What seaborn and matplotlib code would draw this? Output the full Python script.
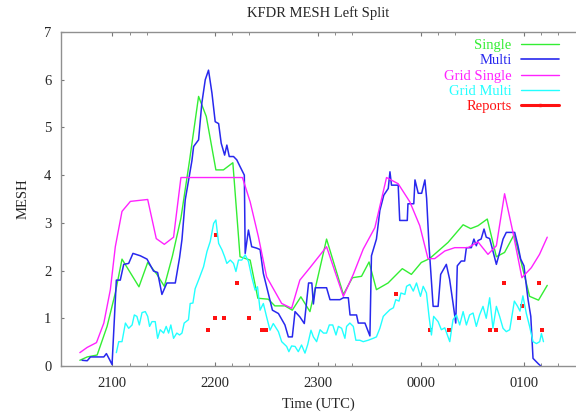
import numpy as np
import matplotlib
matplotlib.use("Agg")
import matplotlib.pyplot as plt
from matplotlib.lines import Line2D
from matplotlib.ticker import FixedLocator
import seaborn as sns

# time in minutes after 2100 UTC
single_t = [-19, -14.7, -8.9, -3.1, 1.7, 5.6, 15.5, 20.6, 26.0, 30.3, 35.0, 40.0, 45.0, 50.3, 54.8,
            60.4, 64.8, 70.3, 74.5, 80.4, 84.9, 91.0, 94.8, 100.7, 105.0, 110.0, 115.3, 125.0, 134.8,
            140.1, 145.4, 149.8, 154.1, 160.9, 169.2, 174.5, 180.3, 185.1, 195.9, 204.7, 209.1, 213.4,
            218.8, 224.1, 228.9, 234.4, 238.6, 243.5, 248.7, 253.8]
single_v = [0.12, 0.19, 0.23, 0.83, 1.53, 2.24, 1.66, 2.17, 1.92, 1.67, 2.30, 3.10, 4.30, 5.65, 5.23,
            4.11, 4.11, 4.26, 2.29, 2.22, 1.42, 1.40, 1.26, 1.26, 1.17, 1.45, 1.14, 2.66, 1.50,
            1.85, 1.88, 2.18, 1.60, 1.74, 2.04, 1.92, 2.17, 2.25, 2.59, 2.96, 2.88, 2.94,
            3.08, 2.29, 2.38, 2.75, 2.17, 1.46, 1.38, 1.69]

multi_t = [-17.7, -14.7, -12.8, -5.0, -3.5, -1.6, -0.2, 2.3, 4.6, 6.6, 9.5, 12.0, 16.3, 20.2, 24.0,
           26.4, 28.9, 31.8, 36.7, 39.2, 40.6, 42.5, 44.5, 46.4, 47.4, 50.3, 52.2, 54.2, 56.1, 58.1,
           60.0, 62.0, 63.5, 65.5, 66.8, 68.2, 70.7, 72.6, 74.5, 77.0, 77.5, 79.4, 81.3, 84.2, 86.2,
           88.1, 91.0, 93.4, 96.9, 100.7, 102.7, 105.0, 106.6, 109.4, 112.0, 114.5, 116.4, 117.3,
           118.5, 125.0, 127.0, 132.8, 134.8, 137.7, 138.7, 142.5, 143.5, 147.4, 150.3, 151.2, 154.1,
           156.1, 158.4, 161.0, 162.0, 162.9, 166.8, 167.7, 172.1, 172.5, 175.9, 176.6, 178.5, 180.5,
           182.4, 183.4, 184.8, 187.2, 190.1, 191.6, 194.9, 196.8, 198.8, 200.4, 201.3, 203.6, 205.6,
           206.6, 209.5, 211.0, 212.4, 213.4, 215.2, 216.9, 218.2, 220.2, 222.1, 224.1, 226.0, 228.0,
           229.9, 234.8, 236.7, 238.3, 240.2, 242.6, 244.2, 245.5, 248.5, 250.0]
multi_v = [0.12, 0.11, 0.19, 0.19, 0.26, 0.13, 0.03, 1.80, 1.80, 2.13, 2.15, 2.36, 2.31, 2.24, 1.99,
           1.96, 1.50, 1.74, 1.74, 2.27, 2.65, 3.48, 3.90, 4.30, 4.60, 4.74, 5.51, 6.00, 6.20, 5.72,
           5.12, 5.08, 4.67, 4.42, 4.63, 4.39, 4.39, 4.32, 4.18, 4.00, 2.36, 2.85, 2.50, 2.47, 2.44,
           1.94, 1.52, 1.17, 1.10, 0.86, 0.61, 0.61, 1.14, 1.03, 0.89, 1.74, 1.74, 1.30,
           1.64, 1.64, 1.39, 1.39, 1.43, 1.43, 1.07, 1.07, 0.90, 0.90, 0.63, 2.31, 2.66,
           3.26, 3.58, 3.72, 4.07, 3.79, 3.79, 3.05, 3.05, 3.40, 3.40, 3.90, 3.62, 3.62,
           3.90, 3.51, 2.52, 1.25, 1.25, 1.92, 2.13, 1.82, 1.32, 0.90, 2.10, 2.20, 2.20,
           2.48, 2.48, 2.66, 2.52, 2.63, 2.66, 2.87, 2.70, 2.67, 2.41, 2.13, 2.38, 2.66,
           2.80, 2.80, 2.52, 2.24, 2.10, 1.39, 1.04, 0.16, 0.05, 0.0]

grid_single_t = [-19, -14.7, -9.3, -5.0, -1.2, 1.7, 5.6, 10.5, 20.6, 25.6, 30.3, 35.7, 40.0, 75.9, 80.4,
                 85.2, 90.0, 98.8, 104.6, 109.4, 115.3, 125.0, 134.8, 140.6, 146.4, 153.2, 160.0, 166.8,
                 173.6, 179.4, 184.2, 188.1, 194.0, 199.8, 207.6, 213.4, 219.2, 224.1, 228.9, 233.8,
                 239.0, 244.5, 249.3, 253.8]
grid_single_v = [0.28, 0.39, 0.49, 0.90, 1.60, 2.50, 3.24, 3.45, 3.49, 2.67, 2.55, 2.70, 3.95, 3.95, 3.44,
                 2.71, 1.87, 1.31, 1.21, 1.80, 2.06, 2.50, 1.46, 1.92, 2.45, 2.90, 3.95, 3.82,
                 3.44, 2.94, 2.25, 2.25, 2.41, 2.48, 2.48, 2.60, 2.34, 2.52, 3.61, 2.80,
                 1.85, 2.06, 2.34, 2.70]

grid_multi_t = [2.3, 3.7, 5.6, 7.6, 9.5, 11.5, 12.8, 14.3, 15.7, 17.3, 19.2, 20.6, 21.7, 23.1, 25.0,
                26.4, 27.9, 29.9, 31.4, 32.8, 34.1, 35.7, 37.6, 39.2, 40.6, 41.9, 44.4, 45.4, 47.0,
                48.3, 50.7, 53.2, 55.2, 57.1, 59.1, 60.4, 62.0, 64.0, 65.5, 66.8, 68.8, 70.7, 72.1,
                73.6, 75.5, 77.5, 79.4, 81.3, 83.3, 84.7, 86.2, 88.1, 90.0, 92.0, 93.9, 96.9, 98.8,
                101.7, 103.0, 104.6, 106.6, 108.5, 110.4, 112.4, 114.0, 115.9, 117.3, 119.2, 121.2,
                123.2, 125.0, 126.6, 128.6, 130.5, 131.9, 133.8, 135.7, 136.7, 138.6, 140.6, 142.1,
                144.4, 146.4, 149.3, 152.2, 154.1, 156.1, 158.1, 160.0, 162.0, 164.0, 165.4, 167.3,
                168.4, 170.7, 171.7, 173.6, 175.6, 177.5, 179.8, 181.4, 183.3, 184.8, 186.2, 187.5,
                190.1, 192.0, 194.0, 196.9, 198.8, 200.8, 202.7, 204.7, 206.6, 208.5, 210.5, 212.4,
                214.3, 216.3, 218.2, 220.2, 222.1, 224.1, 226.0, 228.0, 229.9, 231.9, 234.6, 236.5,
                237.9, 239.6, 241.6, 243.5, 245.5, 247.5, 249.4, 250.4, 251.6]
grid_multi_v = [0.28, 0.51, 0.51, 0.90, 0.79, 0.86, 1.07, 1.04, 0.86, 1.12, 1.14, 1.04, 0.83, 0.93, 0.93,
                0.58, 0.76, 0.69, 0.83, 0.69, 0.86, 0.58, 0.69, 0.65, 0.69, 0.90, 0.97, 1.31, 1.32,
                1.62, 1.84, 2.08, 2.40, 2.61, 2.99, 3.06, 2.57, 2.43, 2.29, 2.15, 2.22, 2.15, 1.98,
                2.22, 2.22, 2.33, 2.19, 1.87, 1.59, 1.66, 1.17, 1.31, 1.03, 0.75, 0.89, 0.72, 0.51,
                0.41, 0.30, 0.42, 0.41, 0.30, 0.44, 0.27, 0.45, 0.75, 0.61, 0.51, 0.76,
                0.69, 0.69, 0.86, 0.86, 0.65, 0.83, 0.79, 0.58, 0.83, 0.90, 0.83, 0.54,
                0.54, 0.51, 0.54, 0.58, 0.61, 0.79, 1.04, 1.11, 1.18, 1.22, 1.39, 1.36,
                1.53, 1.50, 1.67, 1.71, 1.57, 1.74, 1.46, 1.67, 1.53, 1.04, 0.65, 1.04,
                0.93, 0.76, 0.80, 0.51, 0.97, 1.07, 0.86, 1.14, 0.86, 1.07, 1.11, 0.83,
                1.07, 1.25, 1.00, 1.43, 0.79, 1.25, 1.04, 0.79, 0.72, 0.76, 1.36, 1.25,
                1.15, 1.47, 1.10, 0.83, 0.51, 0.47, 0.51, 0.68, 0.51]

reports_t = [55.7, 60.0, 60.6, 65.1, 72.9, 80.0, 87.5, 89.4, 165.4, 185.6, 196.5, 220.6, 223.7,
             228.7, 237.1, 238.8, 248.7, 250.7]
reports_v = [0.75, 1.0, 2.75, 1.0, 1.75, 1.0, 0.75, 0.75, 1.5, 0.75, 0.75, 0.75, 0.75,
             1.75, 1.0, 1.25, 1.75, 0.75]

hour_ticks = [0, 60, 120, 180, 240]
hour_labels = ['2100', '2200', '2300', '0000', '0100']

c_single = '#33ee33'
c_multi = '#2828ee'
c_gsingle = '#ff22ff'
c_gmulti = '#22ffff'
c_rep = '#ff1111'

sns.set_style("white")
plt.rcParams['font.family'] = ['Liberation Serif', 'DejaVu Serif']

fig = plt.figure(figsize=(5.76, 4.13), dpi=100)
ax = fig.add_axes([61 / 576, 1 - 366 / 413, 514 / 576, 334 / 413])

sns.lineplot(x=np.array(single_t), y=np.array(single_v), ax=ax, color=c_single, lw=1.0,
             estimator=None, sort=False)
sns.lineplot(x=np.array(multi_t), y=np.array(multi_v), ax=ax, color=c_multi, lw=1.1,
             estimator=None, sort=False)
sns.lineplot(x=np.array(grid_single_t), y=np.array(grid_single_v), ax=ax, color=c_gsingle, lw=1.0,
             estimator=None, sort=False)
sns.lineplot(x=np.array(grid_multi_t), y=np.array(grid_multi_v), ax=ax, color=c_gmulti, lw=1.0,
             estimator=None, sort=False)
sns.scatterplot(x=np.array(reports_t), y=np.array(reports_v), ax=ax, color=c_rep, marker='s',
                s=5, linewidth=0)

ax.set_xlim(-30, 270)
ax.set_ylim(0, 7)
ax.set_xticks(hour_ticks)
ax.set_xticklabels(hour_labels)
minor = [h + m for h in hour_ticks for m in (10, 20)]
ax.xaxis.set_minor_locator(FixedLocator(minor))
ax.set_yticks(range(8))
ax.tick_params(axis='both', which='both', direction='in', labelsize=10.5, color='#777777',
               top=True, bottom=True, left=True, right=False)
ax.tick_params(axis='x', which='major', length=3, pad=8)
ax.tick_params(axis='x', which='minor', length=2)
ax.tick_params(axis='y', which='major', length=2.5, pad=7)

for side in ['left', 'bottom', 'top']:
    ax.spines[side].set_color('#909090')
    ax.spines[side].set_linewidth(1.0)
ax.spines['right'].set_visible(False)

ax.set_title('KFDR MESH Left Split', fontsize=10.5, pad=11)
ax.set_xlabel('Time (UTC)', fontsize=10.5, labelpad=5)
ax.set_ylabel('MESH', fontsize=10.5, labelpad=10)

handles = [
    Line2D([], [], color=c_single, lw=1.0),
    Line2D([], [], color=c_multi, lw=1.2),
    Line2D([], [], color=c_gsingle, lw=1.0),
    Line2D([], [], color=c_gmulti, lw=1.0),
    Line2D([], [], color=c_rep, lw=2.2, marker='s', ms=2),
]
labels = ['Single', 'Multi', 'Grid Single', 'Grid Multi', 'Reports']
ax.legend(handles, labels, loc='upper right', bbox_to_anchor=(559 / 576, 1 - 39 / 413),
          bbox_transform=fig.transFigure, frameon=False, markerfirst=False, labelcolor='linecolor',
          fontsize=10.5, handlelength=2.6, handletextpad=0.65, labelspacing=0.14, numpoints=1,
          borderpad=0, borderaxespad=0)

fig.savefig('out.png', dpi=100)
